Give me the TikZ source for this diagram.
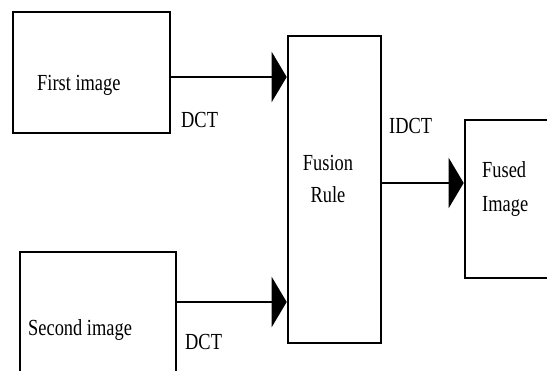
\documentclass[tikz,border=0pt]{standalone}
\usepackage{fontspec}
\newfontfamily\blockfont[FakeStretch=0.8]{Liberation Serif}
\usetikzlibrary{arrows.meta}
\tikzset{
  block/.style={draw, line width=2.6pt, inner sep=0pt},
  lbl/.style={inner sep=0pt, font=\blockfont\fontsize{23}{27}\selectfont},
  flow/.style={line width=2.6pt, -{Triangle[length=15pt, width=50pt]}}
}
\begin{document}
\begin{tikzpicture}[x=1pt, y=-1pt]
  \useasboundingbox (0,0) rectangle (547,371);
  \clip (0,0) rectangle (547,371);
  % processing blocks
  \node[block, minimum width=157pt, minimum height=121pt] (first) at (91.5,72.5) {};
  \node[block, minimum width=156pt, minimum height=148pt] (second) at (98,326) {};
  \node[block, minimum width=93pt, minimum height=307pt] (fusion) at (334.5,189.5) {};
  \node[block, minimum width=100pt, minimum height=158pt] (fused) at (515,199) {};
  % block captions
  \node[lbl, anchor=base west] (tfirst) at (37,91) {First image};
  \node[lbl, anchor=base west] (tsecond) at (28,336) {Second image};
  \node[lbl, anchor=base] (tfusion) at (328,171) {Fusion};
  \node[lbl, anchor=base] (trule) at (328,203) {Rule};
  \node[lbl, anchor=base west] (tfused) at (482,178) {Fused};
  \node[lbl, anchor=base west] (timage) at (482,212) {Image};
  % transform labels
  \node[lbl, anchor=base west] (dct1) at (181,128) {DCT};
  \node[lbl, anchor=base west] (dct2) at (185,350) {DCT};
  \node[lbl, anchor=base west] (idct) at (389,134) {IDCT};
  % connectors
  \draw[flow] (first.east |- 0,77) -- (fusion.west |- 0,77);
  \draw[flow] (second.east |- 0,302) -- (fusion.west |- 0,302);
  \draw[flow] (fusion.east |- 0,183) -- (fused.west |- 0,183);
\end{tikzpicture}
\end{document}
